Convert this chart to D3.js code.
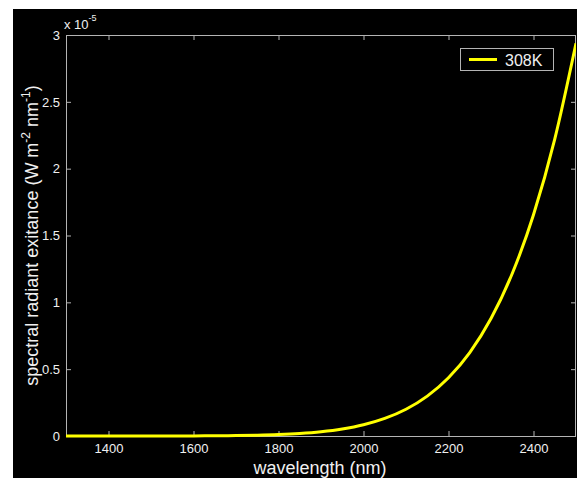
<!DOCTYPE html>
<html>
<head>
<meta charset="utf-8">
<script src="https://cdn.jsdelivr.net/npm/d3@7"></script>
<style>
  html, body { margin: 0; padding: 0; background: #ffffff; }
  svg { display: block; font-family: "Liberation Sans", Arial, sans-serif; }
</style>
</head>
<body>
<svg id="chart" width="577" height="478"></svg>
<script>
// Blackbody spectral radiant exitance at 308 K, in units of 1e-5 W m^-2 nm^-1
const wavelengths = [1300, 1350, 1400, 1450, 1500, 1550, 1600, 1650, 1700, 1750, 1800,
                     1850, 1900, 1950, 2000, 2050, 2100, 2150, 2200, 2250, 2300, 2350,
                     2400, 2450, 2500];
const exitance308K = [0.0000025, 0.0000078, 0.0000225, 0.0000595, 0.000147, 0.000341,
                      0.000746, 0.00155, 0.00307, 0.00582, 0.01061, 0.01865, 0.0318,
                      0.0524, 0.0840, 0.1313, 0.2000, 0.2984, 0.4360, 0.6241, 0.8787,
                      1.2154, 1.6547, 2.221, 2.938];
const xTicks = [1400, 1600, 1800, 2000, 2200, 2400];
const yTicks = [0, 0.5, 1, 1.5, 2, 2.5, 3];
const seriesName = "308K";

const svg = d3.select("#chart");
const W = 577, H = 478;
const plot = { left: 66, right: 576, top: 35, bottom: 436 };

const axisColor = "#b4b4b4";
const textColor = "#f0f0f0";

// black figure background
svg.append("rect").attr("x", 13).attr("y", 9).attr("width", W - 13).attr("height", H - 9)
  .attr("fill", "#000000");

const x = d3.scaleLinear().domain([1300, 2500]).range([plot.left, plot.right]);
const y = d3.scaleLinear().domain([0, 3]).range([plot.bottom, plot.top]);

svg.append("defs").append("clipPath").attr("id", "plotclip")
  .append("rect").attr("x", plot.left).attr("y", plot.top - 2)
  .attr("width", plot.right - plot.left).attr("height", plot.bottom - plot.top + 4);

// axes with inward ticks on all four sides
const tickLen = 5;
function styleAxis(g) {
  g.select(".domain").remove();
  g.selectAll(".tick line").attr("stroke", axisColor).attr("stroke-width", 1);
  g.selectAll(".tick text").attr("fill", textColor).attr("font-size", 13)
    .attr("font-family", "Liberation Sans, Arial, sans-serif");
}

svg.append("g").attr("transform", `translate(0,${plot.bottom})`)
  .call(d3.axisBottom(x).tickValues(xTicks).tickSize(-tickLen).tickPadding(8).tickFormat(d3.format("d")))
  .call(styleAxis);
svg.append("g").attr("transform", `translate(0,${plot.top})`)
  .call(d3.axisTop(x).tickValues(xTicks).tickSize(-tickLen).tickFormat(""))
  .call(styleAxis);
svg.append("g").attr("transform", `translate(${plot.left},0)`)
  .call(d3.axisLeft(y).tickValues(yTicks).tickSize(-tickLen).tickPadding(6).tickFormat(d3.format("~g")))
  .call(styleAxis);
svg.append("g").attr("transform", `translate(${plot.right},0)`)
  .call(d3.axisRight(y).tickValues(yTicks).tickSize(-tickLen).tickFormat(""))
  .call(styleAxis);

// axes box
svg.append("rect").attr("x", plot.left + 0.5).attr("y", plot.top + 0.5)
  .attr("width", plot.right - plot.left - 1).attr("height", plot.bottom - plot.top)
  .attr("fill", "none").attr("stroke", axisColor).attr("stroke-width", 1);

// curve
const line = d3.line()
  .x((d, i) => x(wavelengths[i]))
  .y(d => y(d))
  .curve(d3.curveMonotoneX);

svg.append("g").attr("clip-path", "url(#plotclip)")
  .append("path").datum(exitance308K)
  .attr("d", line).attr("fill", "none")
  .attr("stroke", "#ffff00").attr("stroke-width", 3)
  .attr("stroke-linejoin", "round");

// exponent label
const expo = svg.append("text").attr("x", 64).attr("y", 29)
  .attr("fill", textColor).attr("font-size", 13);
expo.append("tspan").text("x 10");
expo.append("tspan").attr("dy", -8).attr("font-size", 9).text("-5");

// axis titles
svg.append("text").attr("x", (plot.left + plot.right) / 2 - 1).attr("y", 473.5)
  .attr("text-anchor", "middle").attr("fill", textColor).attr("font-size", 18)
  .text("wavelength (nm)");

const yl = svg.append("text")
  .attr("transform", `translate(38,${(plot.top + plot.bottom) / 2}) rotate(-90)`)
  .attr("text-anchor", "middle").attr("fill", textColor).attr("font-size", 18);
yl.append("tspan").text("spectral radiant exitance (W m");
yl.append("tspan").attr("dy", -8).attr("font-size", 12).text("-2");
yl.append("tspan").attr("dy", 8).text(" nm");
yl.append("tspan").attr("dy", -8).attr("font-size", 12).text("-1");
yl.append("tspan").attr("dy", 8).text(")");

// legend
const lg = svg.append("g");
lg.append("rect").attr("x", 460.5).attr("y", 48.5).attr("width", 93).attr("height", 22)
  .attr("fill", "#000000").attr("stroke", axisColor).attr("stroke-width", 1);
lg.append("line").attr("x1", 469).attr("x2", 497).attr("y1", 59.5).attr("y2", 59.5)
  .attr("stroke", "#ffff00").attr("stroke-width", 3);
lg.append("text").attr("x", 505).attr("y", 65.5).attr("fill", textColor)
  .attr("font-size", 16).text(seriesName);
</script>
</body>
</html>
